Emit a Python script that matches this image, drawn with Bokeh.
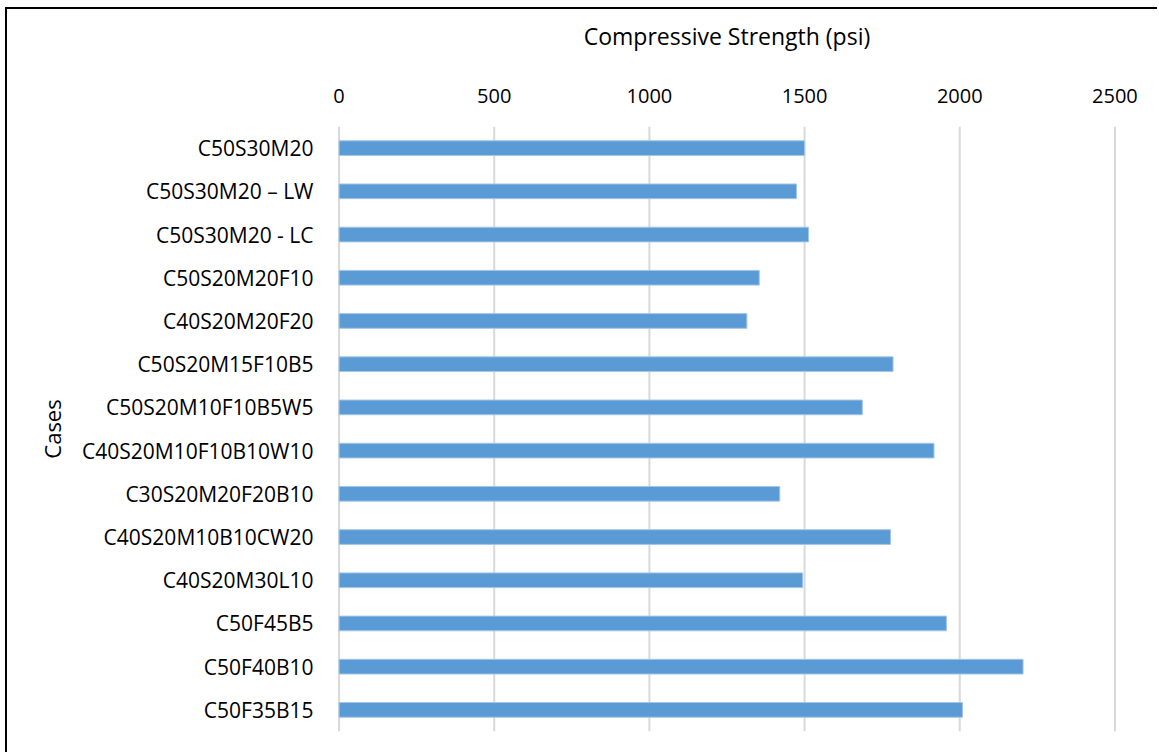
from bokeh.plotting import figure
from bokeh.models import FactorRange, Range1d, SingleIntervalTicker, ColumnDataSource
from bokeh.transform import dodge
from bokeh.embed import file_html
from bokeh.resources import INLINE

# Mix designs, listed top to bottom
cases = [
    "C50S30M20",
    "C50S30M20 \u2013 LW",
    "C50S30M20 - LC",
    "C50S20M20F10",
    "C40S20M20F20",
    "C50S20M15F10B5",
    "C50S20M10F10B5W5",
    "C40S20M10F10B10W10",
    "C30S20M20F20B10",
    "C40S20M10B10CW20",
    "C40S20M30L10",
    "C50F45B5",
    "C50F40B10",
    "C50F35B15",
]

# Compressive strength of each mix (psi)
strength = [1500, 1474, 1513, 1354, 1314, 1785, 1686, 1917, 1420, 1777, 1494, 1957, 2204, 2009]

x_ticks = [0, 500, 1000, 1500, 2000, 2500]

FONT = "Open Sans"
TEXT = "#000000"

# a few psi of slack on both ends so the outer gridlines are not clipped
pad = 5

p = figure(
    width=1152, height=745,
    y_range=FactorRange(factors=cases[::-1], range_padding=0.0),
    x_range=Range1d(x_ticks[0] - pad, x_ticks[-1] + pad),
    x_axis_location="above",
    output_backend="svg",
    toolbar_location=None,
    min_border_left=330, min_border_right=43,
    min_border_top=117, min_border_bottom=23,
)
p.styles = {
    "margin-left": "5px",
    "margin-top": "7px",
    "border-left": "2px solid #000000",
    "border-top": "2px solid #000000",
}

# vertical gridlines at each tick value, spanning all categories, behind the bars
p.xgrid.grid_line_color = None
p.ygrid.grid_line_color = None
grid_src = ColumnDataSource(dict(
    x=x_ticks,
    lo=[cases[-1]] * len(x_ticks),
    hi=[cases[0]] * len(x_ticks),
))
p.segment(x0="x", x1="x",
          y0=dodge("lo", -0.5, range=p.y_range),
          y1=dodge("hi", 0.5, range=p.y_range),
          source=grid_src, line_color="#D9D9D9", line_width=2)

p.hbar(y=cases, right=strength, left=0, height=0.34,
       fill_color="#5B9BD5", line_color="#A4C6E8", line_width=1)

p.outline_line_color = None
p.background_fill_color = "#FFFFFF"
p.border_fill_color = "#FFFFFF"

# value axis on top
xa = p.xaxis[0]
xa.ticker = SingleIntervalTicker(interval=500, num_minor_ticks=0)
xa.axis_label = "Compressive Strength (psi)"
xa.axis_line_color = None
xa.major_tick_line_color = None
xa.minor_tick_line_color = None
xa.major_tick_out = 0
xa.major_tick_in = 0
xa.major_label_standoff = 24
xa.axis_label_standoff = 34
xa.major_label_text_font = FONT
xa.major_label_text_font_size = "20px"
xa.major_label_text_color = TEXT
xa.axis_label_text_font = FONT
xa.axis_label_text_font_size = "23px"
xa.axis_label_text_font_style = "normal"
xa.axis_label_text_color = TEXT

# category axis
ya = p.yaxis[0]
ya.axis_label = "Cases"
ya.axis_line_color = None
ya.major_tick_line_color = None
ya.minor_tick_line_color = None
ya.major_tick_out = 0
ya.major_tick_in = 0
ya.major_label_standoff = 24
ya.axis_label_standoff = 12
ya.major_label_text_font = FONT
ya.major_label_text_font_size = "21px"
ya.major_label_text_color = TEXT
ya.axis_label_text_font = FONT
ya.axis_label_text_font_size = "22px"
ya.axis_label_text_font_style = "normal"
ya.axis_label_text_color = TEXT

open("out.html", "w").write(file_html(p, INLINE))
